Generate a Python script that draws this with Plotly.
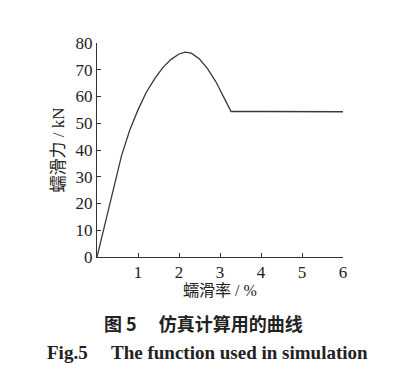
import plotly.graph_objects as go

creep_rate = [0, 0.2, 0.4, 0.6, 0.8, 1.0, 1.2, 1.4, 1.6, 1.8, 2.0, 2.15, 2.3, 2.5, 2.7, 2.9, 3.1, 3.27, 4.0, 5.0, 6.0]
creep_force = [0, 13, 26, 38, 47.5, 55, 61.5, 66.5, 70.7, 73.8, 75.9, 76.6, 76.2, 74.0, 70.3, 65.5, 59.5, 54.4, 54.4, 54.4, 54.3]
x_ticks = [1, 2, 3, 4, 5, 6]
y_ticks = [0, 10, 20, 30, 40, 50, 60, 70, 80]

FONT = "Liberation Serif, Noto Sans CJK SC, serif"
OFF = 8  # page body margin
W, H = 400 - OFF, 381 - OFF
L, R, T, B = 96.5 - OFF, 56.5, 43.3 - OFF, 124.3

fig = go.Figure()
fig.add_trace(go.Scatter(x=creep_rate, y=creep_force, mode="lines",
                         line=dict(color="#3a3a3a", width=1.3),
                         showlegend=False, hoverinfo="skip"))

fig.update_layout(
    width=W, height=H,
    margin=dict(l=L, r=R, t=T, b=B, autoexpand=False),
    paper_bgcolor="white", plot_bgcolor="white",
    font=dict(family=FONT, size=17, color="#222"),
    xaxis=dict(range=[0, 6], tickvals=x_ticks, ticks="inside", ticklen=4,
               tickcolor="#333", showline=True, linecolor="#333", linewidth=1,
               showgrid=False, zeroline=False, automargin=False,
               title=dict(text="蠕滑率 / %", font=dict(size=16), standoff=2)),
    yaxis=dict(range=[0, 80], tickvals=y_ticks, ticks="inside", ticklen=4,
               tickcolor="#333", showline=True, linecolor="#333", linewidth=1,
               showgrid=False, zeroline=False, automargin=False,
               title=dict(text="蠕滑力 / kN", font=dict(size=17), standoff=6)),
)

pw, ph = W - L - R, H - T - B


def px(x, y):
    # x, y in window pixels
    x -= OFF
    y -= OFF
    return (x - L) / pw, (H - B - y) / ph


cx, cy = px(203, 323)
fx, fy = px(207, 352)
fig.add_annotation(text="<b>图 5　 仿真计算用的曲线</b>", x=cx, y=cy, xref="paper", yref="paper",
                   xanchor="center", yanchor="middle",
                   showarrow=False, font=dict(size=18, family="Noto Sans CJK SC, sans-serif"))
fig.add_annotation(text="<b>Fig.5　 The function used in simulation</b>", x=fx, y=fy,
                   xref="paper", yref="paper", showarrow=False,
                   xanchor="center", yanchor="middle",
                   font=dict(size=19, family="Liberation Serif, serif"))

fig.write_html("out.html")
